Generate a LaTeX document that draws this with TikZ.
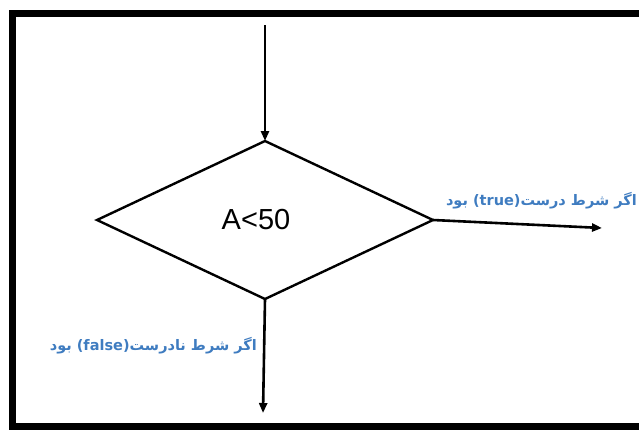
\documentclass[tikz,border=0pt]{standalone}
\usepackage{fontspec}
\setmainfont{Liberation Sans}
\newfontfamily\arabicfont[Script=Arabic]{DejaVu Sans}
\TeXXeTstate=1
\usetikzlibrary{shapes.geometric,arrows.meta}
\definecolor{labelblue}{HTML}{3F7CC0}

\begin{document}
\begin{tikzpicture}[x=1pt,y=-1pt,line width=2.4pt,
  flow/.style={-{Triangle[length=10pt,width=8pt]}, line width=2.6pt},
  cond/.style={draw, shape=diamond, minimum width=336pt, minimum height=158pt,
    inner sep=0pt, outer sep=0pt, font=\fontsize{29}{32}\selectfont},
  lbl/.style={text=labelblue, inner sep=0pt,
    font=\arabicfont\bfseries\fontsize{14.5}{16}\selectfont}]
  \useasboundingbox (0,0) rectangle (639,429);
  % frame
  \draw[line width=7pt] (639,13) -- (12.5,13) -- (12.5,426.5) -- (639,426.5);
  % decision
  \node[cond] (test) at (265,220) {\hspace*{-18pt}A<50};
  \coordinate (entry) at (265,25);
  \coordinate (yes) at (602,228);
  \coordinate (no) at (263,413);
  \draw[flow] (entry) -- (test.north);
  \draw[flow] (test.east) -- (yes);
  \draw[flow] (test.south) -- (no);
  % labels
  \node[lbl, anchor=east] (truelbl) at (638,201)
    {\beginR بود\endR\ (true)\beginR اگر شرط درست\endR};
  \node[lbl, anchor=east] (falselbl) at (258,346)
    {\beginR بود\endR\ (false)\beginR اگر شرط نادرست\endR};
\end{tikzpicture}
\end{document}
